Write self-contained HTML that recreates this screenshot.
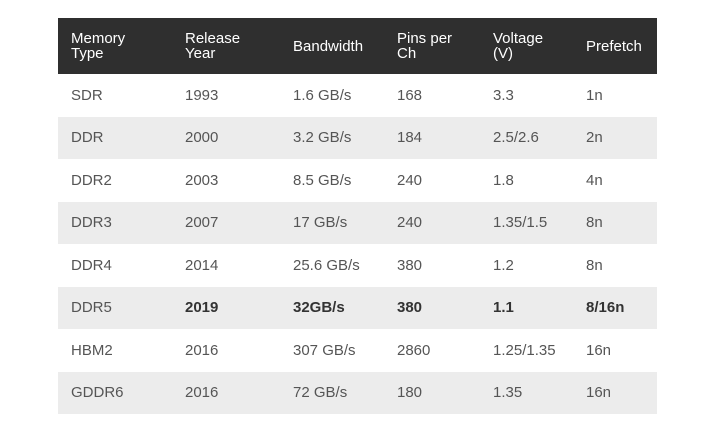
<!DOCTYPE html>
<html><head><meta charset="utf-8"><style>
body{margin:0;background:#fff;width:719px;height:433px;overflow:hidden;font-family:"Liberation Sans",sans-serif}
table{position:absolute;left:58px;top:18px;width:599px;border-collapse:collapse}
th,td{padding:0;text-align:left;vertical-align:middle}
th{background:#2f2f2f;color:#fff;font-weight:normal;font-size:15px;line-height:15px;height:56px}
td{height:42.5px;color:#555;font-size:15px}
tr:nth-child(even) td{background:#ececec}
tr.b td{font-weight:bold;color:#333}
.c1{padding-left:13px;width:114px}.c2{width:108px}.c3{width:104px}.c4{width:96px}.c5{width:93px}
</style></head><body>
<table>
<thead><tr>
<th class="c1">Memory<br>Type</th>
<th class="c2">Release<br>Year</th>
<th class="c3">Bandwidth</th>
<th class="c4">Pins per<br>Ch</th>
<th class="c5">Voltage<br>(V)</th>
<th>Prefetch</th>
</tr></thead>
<tbody>
<tr><td class="c1">SDR</td><td>1993</td><td>1.6 GB/s</td><td>168</td><td>3.3</td><td>1n</td></tr>
<tr><td class="c1">DDR</td><td>2000</td><td>3.2 GB/s</td><td>184</td><td>2.5/2.6</td><td>2n</td></tr>
<tr><td class="c1">DDR2</td><td>2003</td><td>8.5 GB/s</td><td>240</td><td>1.8</td><td>4n</td></tr>
<tr><td class="c1">DDR3</td><td>2007</td><td>17 GB/s</td><td>240</td><td>1.35/1.5</td><td>8n</td></tr>
<tr><td class="c1">DDR4</td><td>2014</td><td>25.6 GB/s</td><td>380</td><td>1.2</td><td>8n</td></tr>
<tr class="b"><td class="c1" style="font-weight:normal;color:#555">DDR5</td><td>2019</td><td>32GB/s</td><td>380</td><td>1.1</td><td>8/16n</td></tr>
<tr><td class="c1">HBM2</td><td>2016</td><td>307 GB/s</td><td>2860</td><td>1.25/1.35</td><td>16n</td></tr>
<tr><td class="c1">GDDR6</td><td>2016</td><td>72 GB/s</td><td>180</td><td>1.35</td><td>16n</td></tr>
</tbody></table>
</body></html>
